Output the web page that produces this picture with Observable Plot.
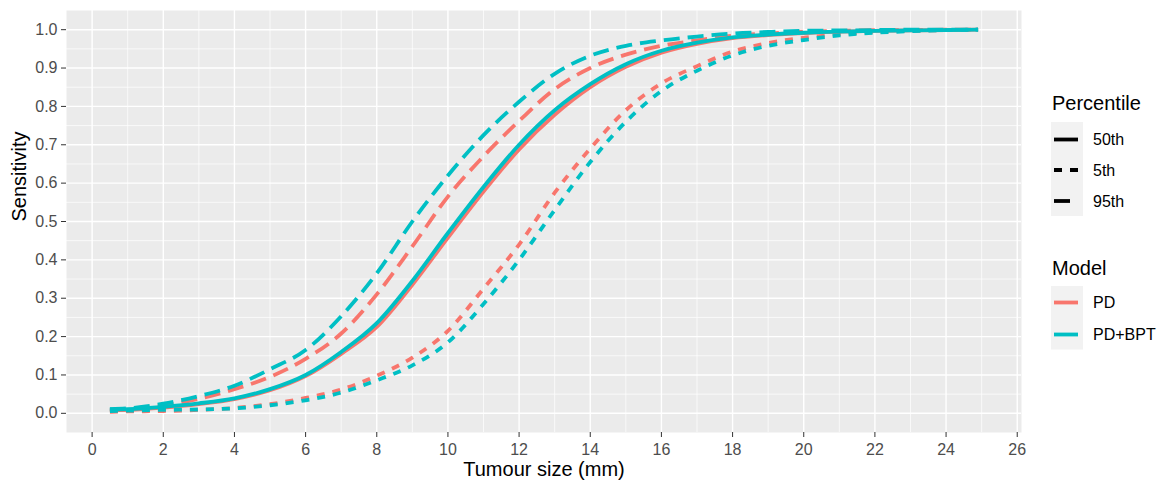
<!DOCTYPE html>
<html>
<head>
<meta charset="utf-8">
<script src="https://cdn.jsdelivr.net/npm/d3@7"></script>
<script src="https://cdn.jsdelivr.net/npm/@observablehq/plot@0.6"></script>
<style>
  html, body { margin: 0; padding: 0; background: white; }
  #wrap { position: relative; width: 1163px; height: 484px; font-family: "Liberation Sans", Arial, sans-serif; }
  #legend { position: absolute; left: 0; top: 0; }
</style>
</head>
<body>
<div id="wrap"></div>
<script>
// ---- data ----
const models = ["PD", "PD+BPT"];
const modelColors = ["#F8766D", "#00BFC4"];
const percentiles = ["50th", "5th", "95th"];
const dashes = ["none", "8,8", "16,8"];

const sizes = [0.5, 1, 2, 3, 4, 5, 6, 7, 8, 9, 10, 11, 12, 13, 14, 15, 16, 17, 18, 19, 20, 21, 22, 23, 24, 24.9];

const pd50  = [0.008, 0.009, 0.015, 0.024, 0.037, 0.060, 0.097, 0.155, 0.225, 0.335, 0.458, 0.578, 0.688, 0.778, 0.850, 0.903, 0.940, 0.963, 0.978, 0.986, 0.991, 0.995, 0.997, 0.998, 0.999, 1.000];
const pd5   = [0.004, 0.005, 0.006, 0.009, 0.014, 0.024, 0.040, 0.062, 0.098, 0.145, 0.215, 0.325, 0.440, 0.575, 0.690, 0.790, 0.860, 0.905, 0.943, 0.965, 0.979, 0.988, 0.994, 0.997, 0.999, 1.000];
const pd95  = [0.008, 0.010, 0.020, 0.038, 0.063, 0.095, 0.142, 0.208, 0.310, 0.435, 0.565, 0.670, 0.762, 0.845, 0.900, 0.935, 0.958, 0.972, 0.984, 0.990, 0.995, 0.997, 0.999, 0.999, 1.000, 1.000];

const bpt50 = [0.010, 0.011, 0.017, 0.026, 0.039, 0.063, 0.100, 0.160, 0.235, 0.345, 0.470, 0.590, 0.700, 0.790, 0.858, 0.910, 0.945, 0.966, 0.980, 0.987, 0.992, 0.995, 0.997, 0.998, 0.999, 1.000];
const bpt5  = [0.006, 0.007, 0.009, 0.010, 0.013, 0.021, 0.034, 0.054, 0.086, 0.125, 0.185, 0.285, 0.400, 0.530, 0.655, 0.760, 0.840, 0.893, 0.933, 0.958, 0.973, 0.985, 0.992, 0.996, 0.999, 1.000];
const bpt95 = [0.011, 0.013, 0.025, 0.045, 0.072, 0.115, 0.165, 0.253, 0.365, 0.500, 0.620, 0.725, 0.812, 0.885, 0.932, 0.958, 0.972, 0.982, 0.990, 0.994, 0.997, 0.998, 0.999, 1.000, 1.000, 1.000];

const xTicks = [0, 2, 4, 6, 8, 10, 12, 14, 16, 18, 20, 22, 24, 26];
const xMinor = [1, 3, 5, 7, 9, 11, 13, 15, 17, 19, 21, 23, 25];
const yTicks = [0, 0.1, 0.2, 0.3, 0.4, 0.5, 0.6, 0.7, 0.8, 0.9, 1.0];
const yMinor = [0.05, 0.15, 0.25, 0.35, 0.45, 0.55, 0.65, 0.75, 0.85, 0.95];

const xTitle = "Tumour size (mm)";
const yTitle = "Sensitivity";

// ---- build long table ----
const seriesValues = {
  "PD": {"50th": pd50, "5th": pd5, "95th": pd95},
  "PD+BPT": {"50th": bpt50, "5th": bpt5, "95th": bpt95}
};
const rows = [];
for (const m of models) for (const p of percentiles) {
  seriesValues[m][p].forEach((v, i) => rows.push({size: sizes[i], sens: v, model: m, pct: p}));
}

const font = "'Liberation Sans', Arial, sans-serif";

const lineMarks = [];
models.forEach((m) => {
  percentiles.forEach((p, j) => {
    lineMarks.push(Plot.line(rows.filter(d => d.model === m && d.pct === p), {
      x: "size", y: "sens", stroke: "model", curve: "monotone-x",
      strokeWidth: 3.8, strokeDasharray: dashes[j], strokeLinecap: "butt", strokeLinejoin: "round"
    }));
  });
});

const chart = Plot.plot({
  width: 1163, height: 484,
  marginLeft: 66, marginRight: 142, marginTop: 10, marginBottom: 52,
  style: {fontFamily: font, fontSize: "16px", background: "white", overflow: "visible"},
  x: {domain: [-0.72, 26.12]},
  y: {domain: [-0.05, 1.05]},
  color: {domain: models, range: modelColors},
  marks: [
    Plot.frame({fill: "#EBEBEB", stroke: "none"}),
    Plot.ruleX(xMinor, {stroke: "white", strokeWidth: 0.7}),
    Plot.ruleY(yMinor, {stroke: "white", strokeWidth: 0.7}),
    Plot.ruleX(xTicks, {stroke: "white", strokeWidth: 1.4}),
    Plot.ruleY(yTicks, {stroke: "white", strokeWidth: 1.4}),
    Plot.axisX(xTicks, {tickSize: 5, tickPadding: 6, label: null, stroke: "#333333", fill: "#4D4D4D", fontSize: 16}),
    Plot.axisY(yTicks, {tickSize: 5, tickPadding: 4, label: null, tickFormat: d3.format(".1f"), stroke: "#333333", fill: "#4D4D4D", fontSize: 16}),
    ...lineMarks,
    Plot.text([xTitle], {frameAnchor: "bottom", dy: 43, text: d => d, fontSize: 20, fill: "black"}),
    Plot.text([yTitle], {frameAnchor: "left", dx: -47, rotate: -90, text: d => d, fontSize: 20, fill: "black"})
  ]
});
document.getElementById("wrap").appendChild(chart);

// ---- legend ----
const leg = d3.select("#wrap").append("svg")
  .attr("id", "legend").attr("width", 1163).attr("height", 484)
  .style("font-family", font).style("pointer-events", "none");

leg.append("text").attr("x", 1052).attr("y", 109.5).attr("font-size", 20).attr("fill", "black").text("Percentile");
leg.append("rect").attr("x", 1051).attr("y", 122).attr("width", 32).attr("height", 94).attr("fill", "#F2F2F2");
const pctY = [139.5, 170, 201];
percentiles.forEach((p, j) => {
  leg.append("line").attr("x1", 1054).attr("x2", 1078).attr("y1", pctY[j]).attr("y2", pctY[j])
    .attr("stroke", "black").attr("stroke-width", 3.8)
    .attr("stroke-dasharray", dashes[j]).attr("stroke-linecap", "butt");
  leg.append("text").attr("x", 1093).attr("y", pctY[j]).attr("dy", "0.35em")
    .attr("font-size", 16).attr("fill", "black").text(p);
});

leg.append("text").attr("x", 1052).attr("y", 275).attr("font-size", 20).attr("fill", "black").text("Model");
leg.append("rect").attr("x", 1051).attr("y", 286).attr("width", 32).attr("height", 63.5).attr("fill", "#F2F2F2");
const modY = [302.5, 334.5];
models.forEach((m, i) => {
  leg.append("line").attr("x1", 1054).attr("x2", 1078).attr("y1", modY[i]).attr("y2", modY[i])
    .attr("stroke", modelColors[i]).attr("stroke-width", 3.8);
  leg.append("text").attr("x", 1093).attr("y", modY[i]).attr("dy", "0.35em")
    .attr("font-size", 16).attr("fill", "black").text(m);
});
</script>
</body>
</html>
